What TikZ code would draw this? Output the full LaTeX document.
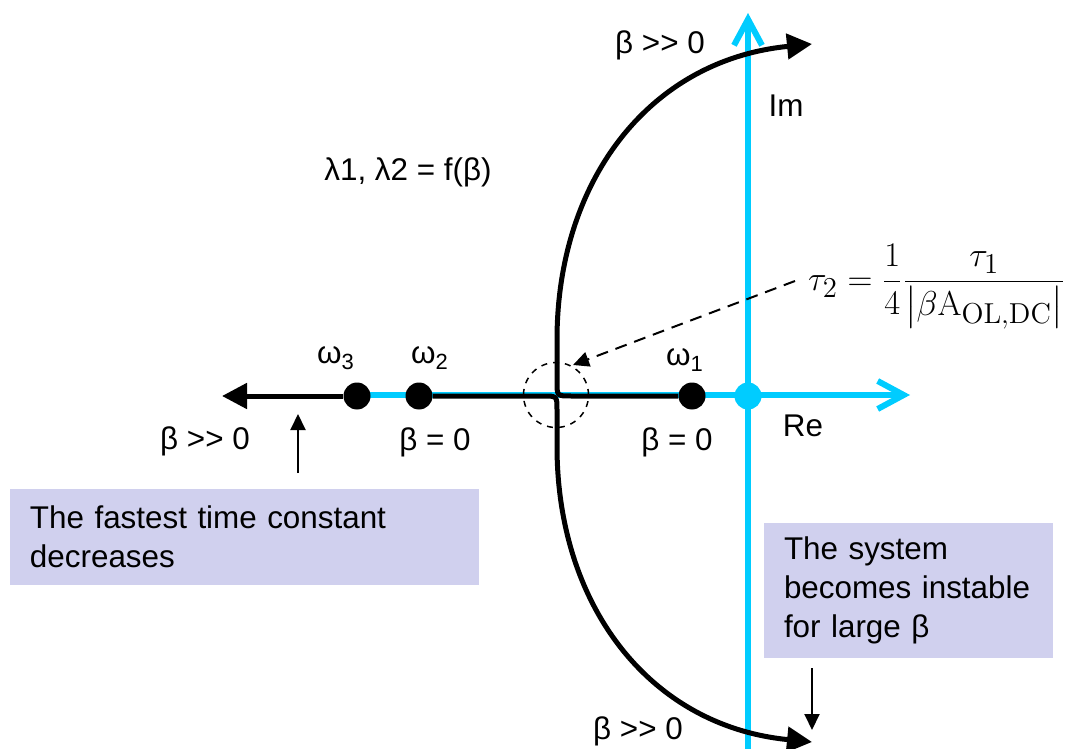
\documentclass[tikz,border=0pt]{standalone}
\usepackage[no-math]{fontspec}
\setmainfont{Liberation Sans}
\usepackage{amsmath}
\usetikzlibrary{arrows.meta}
\definecolor{axiscyan}{RGB}{0,204,255}
\definecolor{notefill}{RGB}{208,208,238}
\tikzset{
  axisline/.style={axiscyan, line width=3pt, -{Straight Barb[length=13pt,width=14pt]}},
  locus/.style={line width=2.5pt, -{Triangle[length=12.5pt,width=12.5pt]}},
  pole/.style={circle, fill=black, inner sep=0pt, minimum size=13.5pt},
  lbl/.style={font=\fontsize{15.7}{18}\selectfont, inner sep=0pt},
  notebox/.style={fill=notefill, font=\fontsize{15.7}{19.5}\selectfont, align=left, inner xsep=10pt, inner ysep=0pt},
  pointer/.style={line width=1pt, -{Triangle[length=8pt,width=7.5pt]}},
}

\begin{document}
\begin{tikzpicture}[x=0.5pt, y=-0.5pt]
  \useasboundingbox (0,0) rectangle (1072,749);
  % axes
  \coordinate (releft) at (357,395); \coordinate (retip) at (910,395);
  \coordinate (imlow) at (748,749); \coordinate (imtop) at (748,13);
  \draw[axisline] (releft) -- (retip);
  \draw[axisline] (imlow) -- (imtop);
  \node[lbl] (im) at (786,106) {Im};
  \node[lbl] (re) at (803,426) {Re};

  % poles
  \node[pole] (w3) at (357,396) {};
  \node[pole] (w2) at (419,396) {};
  \node[pole] (w1) at (692,396) {};
  \node[pole, fill=axiscyan] (origin) at (748,396) {};
  \node[lbl] (w3lbl) at (336,358) {ω\textsubscript{3}};
  \node[lbl] (w2lbl) at (430,358) {ω\textsubscript{2}};
  \node[lbl] (w1lbl) at (685,360) {ω\textsubscript{1}};

  % root locus
  \coordinate (lefttip) at (222,396);
  \coordinate (toptip) at (812,44);
  \coordinate (bottip) at (812,742);
  \draw[locus] (w3) -- (lefttip);
  \draw[locus] (w1) -- (571,396) .. controls (557,396) .. (557,382) -- (557,340)
    .. controls (557,180) and (650,60) .. (toptip);
  \draw[locus] (w2) -- (543,396) .. controls (557,396) .. (557,410) -- (557,446)
    .. controls (557,606) and (650,726) .. (bottip);

  \node[lbl] (topbeta) at (660,45) {β {>}{>} 0};
  \node[lbl] (leftbeta) at (205,441) {β {>}{>} 0};
  \node[lbl] (botbeta) at (638,731) {β {>}{>} 0};
  \node[lbl] (zerobeta2) at (435,442) {β = 0};
  \node[lbl] (zerobeta1) at (677,442) {β = 0};
  \node[lbl] (lambdas) at (408,172) {λ1, λ2 = f(β)};

  % split point and time constant
  \node[draw, dashed, circle, line width=0.75pt, inner sep=0pt, minimum size=32.5pt] (split) at (556,395) {};
  \node[inner sep=0pt, font=\fontsize{19}{23}\selectfont] (taueq) at (937,287)
    {$\tau_2 = \dfrac{1}{4}\dfrac{\tau_1}{\left|\beta\mathrm{A}_{\mathrm{OL,DC}}\right|}$};
  \coordinate (dashfrom) at (795,281); \coordinate (dashto) at (573,365);
  \draw[pointer, dashed, dash pattern=on 6pt off 4pt] (dashfrom) -- (dashto);

  % notes
  \node[notebox, text width=214.5pt, minimum height=48pt] (fastnote) at (244.5,537)
    {The fastest time constant\\decreases};
  \node[notebox, text width=124.5pt, minimum height=67.5pt] (unstablenote) at (908.5,590.5)
    {The system\\becomes instable\\for large β};
  \coordinate (upfrom) at (298,473); \coordinate (upto) at (298,414);
  \draw[pointer] (upfrom) -- (upto);
  \coordinate (downfrom) at (812,668); \coordinate (downto) at (812,730);
  \draw[pointer] (downfrom) -- (downto);
\end{tikzpicture}
\end{document}
